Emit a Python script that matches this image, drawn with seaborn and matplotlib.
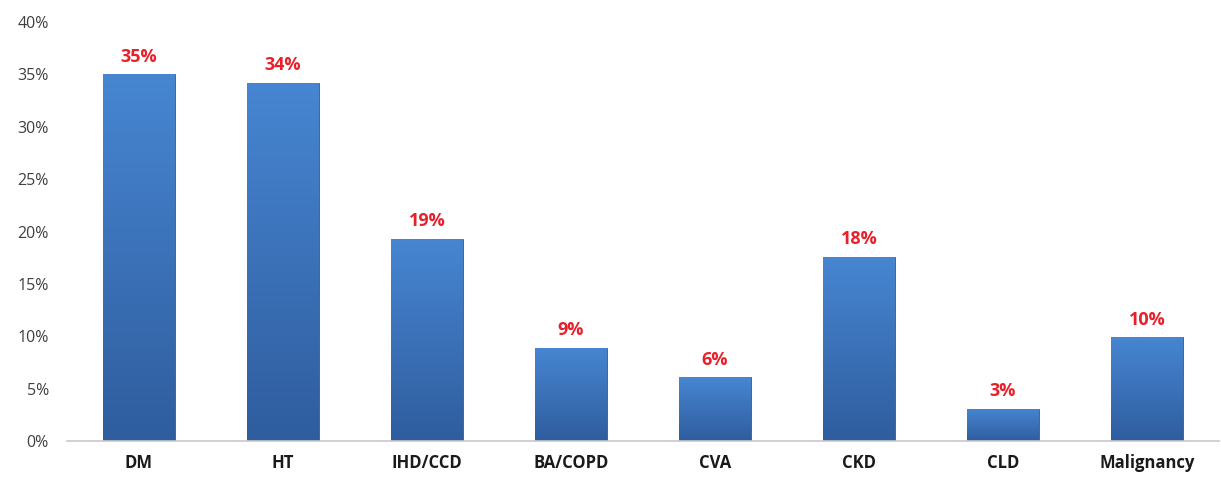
import numpy as np
import pandas as pd
import matplotlib
matplotlib.use("Agg")
import matplotlib.pyplot as plt
import seaborn as sns
from matplotlib.colors import LinearSegmentedColormap

# datos
categorias = ['DM', 'HT', 'IHD/CCD', 'BA/COPD', 'CVA', 'CKD', 'CLD', 'Malignancy']
valores = [0.350, 0.342, 0.193, 0.089, 0.061, 0.176, 0.031, 0.099]
etiquetas = ['35%', '34%', '19%', '9%', '6%', '18%', '3%', '10%']
yticks = [0, 0.05, 0.10, 0.15, 0.20, 0.25, 0.30, 0.35, 0.40]

df = pd.DataFrame({'cat': categorias, 'val': valores})

sns.set_style('white')
plt.rcParams['font.family'] = ['Open Sans', 'DejaVu Sans']

fig = plt.figure(figsize=(12.21, 4.79), dpi=100)
ax = fig.add_axes([67 / 1221, 1 - 441 / 479, 1152 / 1221, (441 - 22) / 479])

sns.barplot(data=df, x='cat', y='val', color='#3a72bf', width=0.5, ax=ax,
            saturation=1)

# degradado vertical en cada barra
cmap = LinearSegmentedColormap.from_list('azul', ['#2f5d9e', '#4786d2'])
grad = np.linspace(0, 1, 256).reshape(-1, 1)
for p in ax.patches:
    x0, y0 = p.get_x(), p.get_y()
    w, h = p.get_width(), p.get_height()
    im = ax.imshow(grad, cmap=cmap, origin='lower', aspect='auto',
                   extent=[x0, x0 + w, y0, y0 + h], zorder=2)
    im.set_clip_path(p)
    p.set_edgecolor('#2c5a96')
    p.set_linewidth(0.6)

ax.set_xlim(-0.5, len(categorias) - 0.5)
ax.set_ylim(0, 0.40)

for i, (v, t) in enumerate(zip(valores, etiquetas)):
    ax.text(i, v + 0.008, t, ha='center', va='bottom', color='#e8202a',
            fontsize=13, fontweight='bold')

ax.set_yticks(yticks)
ax.set_yticklabels([f'{int(round(t * 100))}%' for t in yticks])
ax.tick_params(axis='y', length=0, labelsize=11.5, labelcolor='#404040', pad=13)
ax.tick_params(axis='x', length=0, labelsize=12, pad=9)
for lab in ax.get_xticklabels():
    lab.set_fontweight('bold')
    lab.set_color('#1a1a1a')

ax.set_xlabel('')
ax.set_ylabel('')
for s in ['top', 'right', 'left']:
    ax.spines[s].set_visible(False)
ax.spines['bottom'].set_color('#c8c8c8')
ax.spines['bottom'].set_linewidth(1.2)

fig.savefig('out.png', dpi=100)
